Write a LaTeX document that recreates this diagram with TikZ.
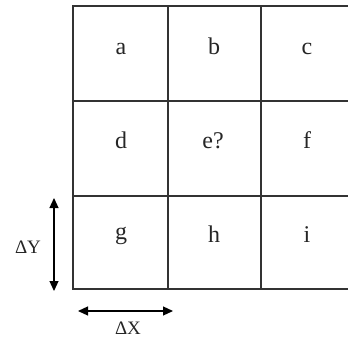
\documentclass[tikz,border=0pt]{standalone}
\usepackage{fontspec}
\setmainfont{Liberation Serif}
\usetikzlibrary{arrows.meta}
\begin{document}
\begin{tikzpicture}[x=1pt,y=-1pt,
  gridline/.style={draw=black!80,line width=1.3pt},
  cell/.style={font=\fontsize{24}{26}\selectfont,inner sep=0pt,anchor=base,text=black!85},
  dlabel/.style={font=\fontsize{19}{21}\selectfont,inner sep=0pt,anchor=base,text=black!85},
  dimarrow/.style={draw=black,line width=1.2pt,{Triangle[length=10pt,width=9pt]}-{Triangle[length=10pt,width=9pt]}}]
\useasboundingbox (0,0) rectangle (348,340);
% grid
\draw[gridline] (348,6) -- (73,6) -- (73,289) -- (348,289);
\draw[gridline] (168,6) -- (168,289);
\draw[gridline] (261,6) -- (261,289);
\draw[gridline] (73,101) -- (348,101);
\draw[gridline] (73,196) -- (348,196);
% cell labels
\node[cell] (a) at (121,54) {a};
\node[cell] (b) at (214,54) {b};
\node[cell] (c) at (307,54) {c};
\node[cell] (d) at (121,148) {d};
\node[cell] (e) at (213,148) {e?};
\node[cell] (f) at (307,148) {f};
\node[cell] (g) at (121,239) {g};
\node[cell] (h) at (214,242) {h};
\node[cell] (i) at (307,242) {i};
% dimension arrows
\coordinate (yt) at (54,198);
\coordinate (yb) at (54,291);
\coordinate (xl) at (78,311);
\coordinate (xr) at (173,311);
\draw[dimarrow] (yt) -- (yb);
\draw[dimarrow] (xl) -- (xr);
\node[dlabel] (dy) at (28,253) {ΔY};
\node[dlabel] (dx) at (128,334) {ΔX};
\end{tikzpicture}
\end{document}
